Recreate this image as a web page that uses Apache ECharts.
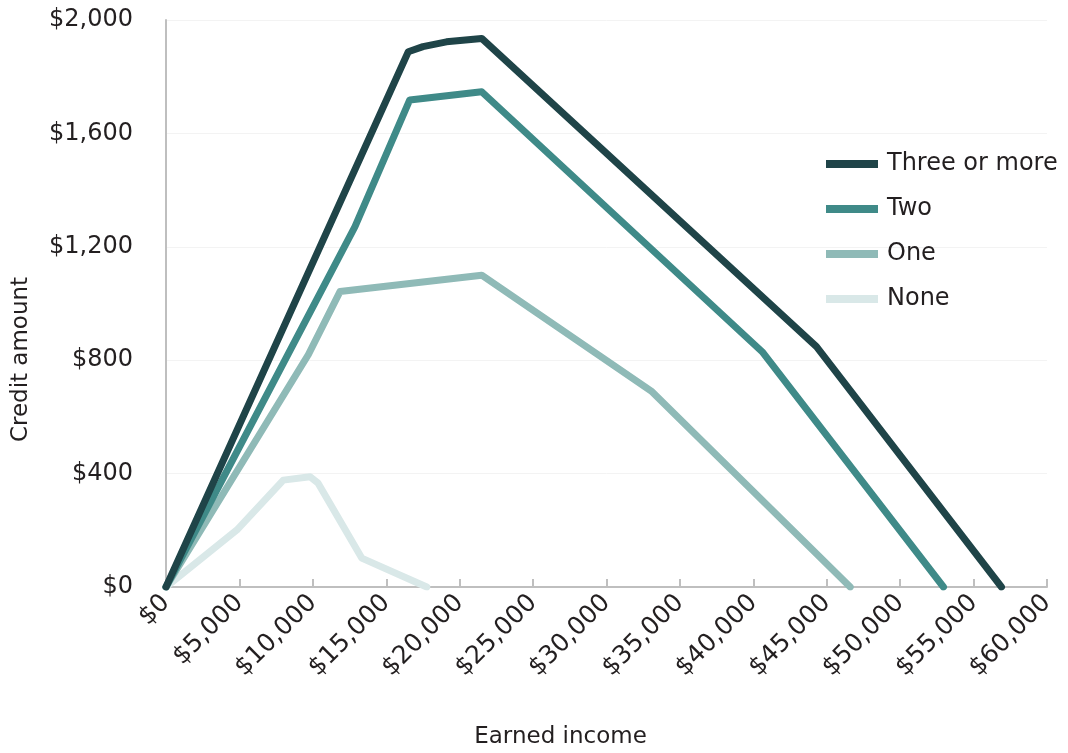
<!DOCTYPE html>
<html>
<head>
<meta charset="utf-8">
<script src="https://cdn.jsdelivr.net/npm/echarts@6/dist/echarts.min.js"></script>
<style>html,body{margin:0;padding:0;background:#fff}#c{width:1068px;height:753px}</style>
</head>
<body>
<div id="c"></div>
<script>
var seriesNames = ['Three or more', 'Two', 'One', 'None'];
var xThree = [0, 16500, 17500, 19100, 21500, 44300, 56900];
var yThree = [0, 1888, 1906, 1923, 1935, 848, 0];
var xTwo = [0, 12870, 16600, 21500, 40600, 52950];
var yTwo = [0, 1271, 1718, 1747, 830, 0];
var xOne = [0, 9700, 11850, 21500, 33100, 46600];
var yOne = [0, 820, 1042, 1100, 689, 0];
var xNone = [0, 4820, 7990, 9810, 10350, 13330, 17760];
var yNone = [0, 201, 377, 389, 367, 102, 0];
var colors = ['#1f4448', '#3f8a88', '#8fbab7', '#d9e8e8'];

function pairs(xs, ys) { return xs.map(function (x, i) { return [x, ys[i]]; }); }
function money(v) { return '$' + Number(v).toLocaleString('en-US'); }

var font = 'DejaVu Sans';
var chart = echarts.init(document.getElementById('c'));
var lineData = [pairs(xThree, yThree), pairs(xTwo, yTwo), pairs(xOne, yOne), pairs(xNone, yNone)];
var series = [];
for (var i = 3; i >= 0; i--) {
  series.push({
    name: seriesNames[i], type: 'line', data: lineData[i], showSymbol: false, symbol: 'none',
    lineStyle: { color: colors[i], width: 7, join: 'round', cap: 'round' },
    itemStyle: { color: colors[i] }, animation: false
  });
}
chart.setOption({
  animation: false,
  textStyle: { fontFamily: font },
  grid: { left: 166, right: 21, top: 20, bottom: 166, outerBoundsMode: 'none', containLabel: false },
  legend: {
    data: seriesNames, orient: 'vertical', left: 821, top: 147,
    icon: 'rect', itemWidth: 52, itemHeight: 8, itemGap: 21,
    textStyle: { fontFamily: font, fontSize: 24, lineHeight: 24, color: '#231f20', padding: [0, 0, 0, 4] }
  },
  xAxis: {
    type: 'value', min: 0, max: 60000, interval: 5000,
    name: 'Earned income', nameLocation: 'middle', nameGap: 139,
    nameTextStyle: { fontFamily: font, fontSize: 23, color: '#231f20', padding: [0, 92, 0, 0] },
    axisLine: { show: true, lineStyle: { color: '#bfbfbf', width: 2 } },
    axisTick: { show: true, length: 8, inside: true, lineStyle: { color: '#bfbfbf', width: 2 } },
    splitLine: { show: false },
    axisLabel: { rotate: 45, margin: 12, fontFamily: font, fontSize: 25, color: '#231f20', formatter: money }
  },
  yAxis: {
    type: 'value', min: 0, max: 2000, interval: 400,
    name: 'Credit amount', nameLocation: 'middle', nameGap: 133,
    nameTextStyle: { fontFamily: font, fontSize: 23, color: '#231f20', padding: [0, 112, 0, 0] },
    axisLine: { show: true, lineStyle: { color: '#bfbfbf', width: 2 } },
    axisTick: { show: false },
    splitLine: { show: true, lineStyle: { color: '#f3f3f3', width: 1 } },
    axisLabel: { margin: 33, fontFamily: font, fontSize: 24, color: '#231f20', formatter: money }
  },
  series: series
});
</script>
</body>
</html>
